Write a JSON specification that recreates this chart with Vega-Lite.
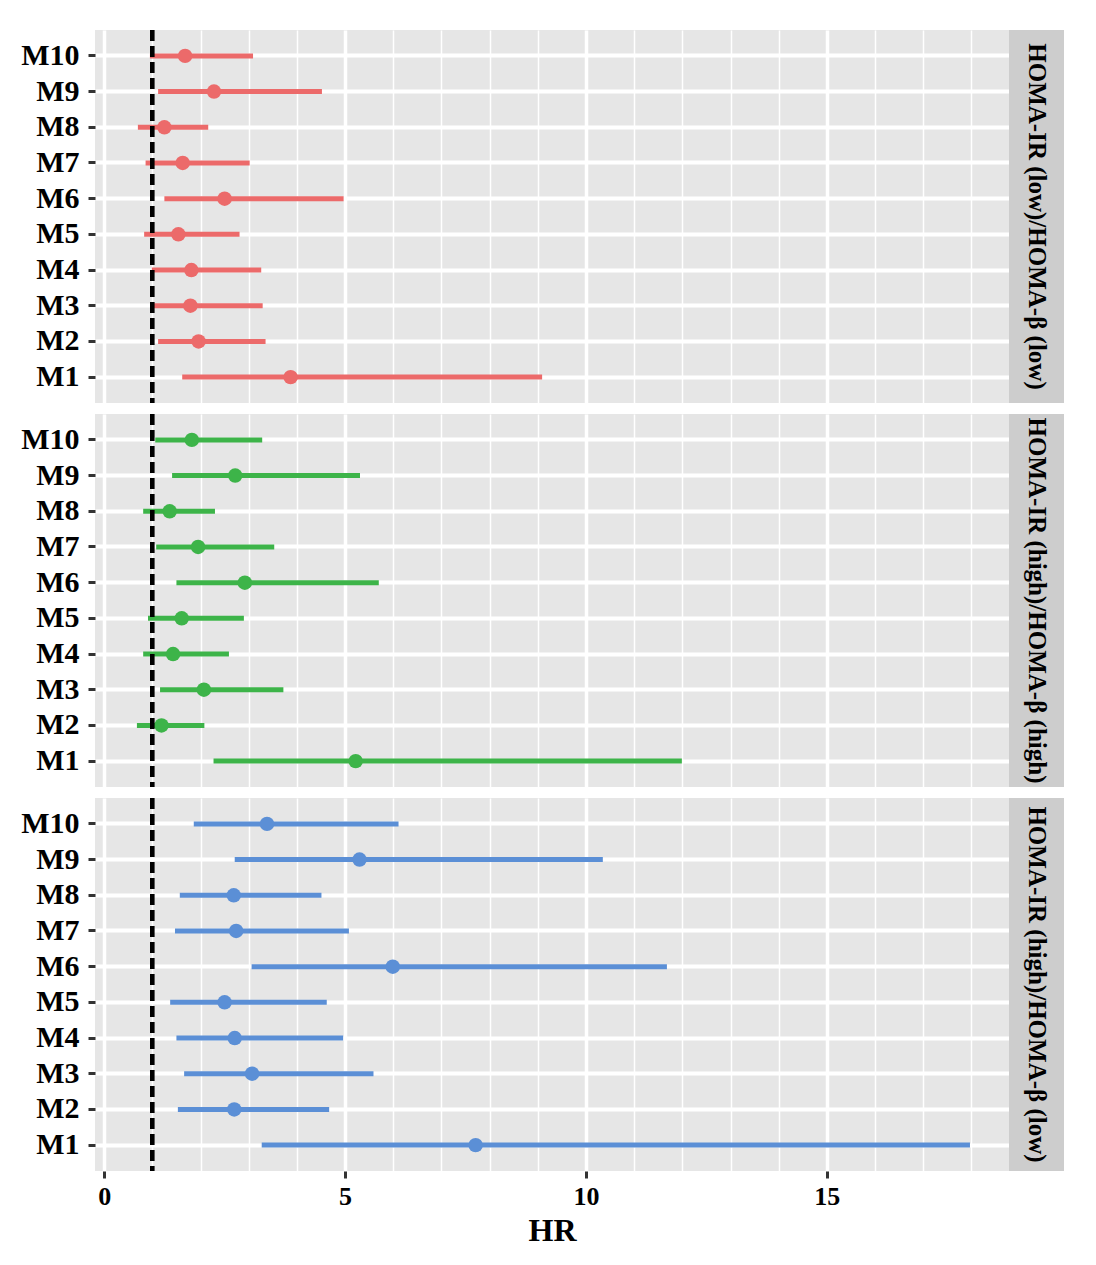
{
  "$schema": "https://vega.github.io/schema/vega-lite/v6.json",
  "background": "white",
  "padding": {"left": 20, "top": 28, "right": 5, "bottom": 5},
  "config": {
    "view": {"stroke": null},
    "axis": {"gridColor": "white", "domain": false, "tickColor": "#333333", "tickWidth": 3, "labelFont": "Liberation Serif", "labelFontWeight": "bold", "labelColor": "black", "titleFont": "Liberation Serif", "titleFontWeight": "bold", "titleColor": "black"}
  },
  "data": {"values": [
    {"group": "HOMA-IR (low)/HOMA-β (low)", "model": "M10", "hr": 1.68, "low": 0.95, "high": 3.09},
    {"group": "HOMA-IR (low)/HOMA-β (low)", "model": "M9", "hr": 2.28, "low": 1.12, "high": 4.52},
    {"group": "HOMA-IR (low)/HOMA-β (low)", "model": "M8", "hr": 1.25, "low": 0.70, "high": 2.16},
    {"group": "HOMA-IR (low)/HOMA-β (low)", "model": "M7", "hr": 1.63, "low": 0.86, "high": 3.02},
    {"group": "HOMA-IR (low)/HOMA-β (low)", "model": "M6", "hr": 2.50, "low": 1.25, "high": 4.97},
    {"group": "HOMA-IR (low)/HOMA-β (low)", "model": "M5", "hr": 1.54, "low": 0.83, "high": 2.81},
    {"group": "HOMA-IR (low)/HOMA-β (low)", "model": "M4", "hr": 1.81, "low": 0.99, "high": 3.26},
    {"group": "HOMA-IR (low)/HOMA-β (low)", "model": "M3", "hr": 1.79, "low": 0.97, "high": 3.29},
    {"group": "HOMA-IR (low)/HOMA-β (low)", "model": "M2", "hr": 1.96, "low": 1.12, "high": 3.35},
    {"group": "HOMA-IR (low)/HOMA-β (low)", "model": "M1", "hr": 3.87, "low": 1.62, "high": 9.09},
    {"group": "HOMA-IR (high)/HOMA-β (high)", "model": "M10", "hr": 1.82, "low": 1.06, "high": 3.28},
    {"group": "HOMA-IR (high)/HOMA-β (high)", "model": "M9", "hr": 2.72, "low": 1.41, "high": 5.31},
    {"group": "HOMA-IR (high)/HOMA-β (high)", "model": "M8", "hr": 1.36, "low": 0.81, "high": 2.30},
    {"group": "HOMA-IR (high)/HOMA-β (high)", "model": "M7", "hr": 1.95, "low": 1.08, "high": 3.53},
    {"group": "HOMA-IR (high)/HOMA-β (high)", "model": "M6", "hr": 2.92, "low": 1.50, "high": 5.70},
    {"group": "HOMA-IR (high)/HOMA-β (high)", "model": "M5", "hr": 1.61, "low": 0.91, "high": 2.90},
    {"group": "HOMA-IR (high)/HOMA-β (high)", "model": "M4", "hr": 1.43, "low": 0.81, "high": 2.59},
    {"group": "HOMA-IR (high)/HOMA-β (high)", "model": "M3", "hr": 2.07, "low": 1.16, "high": 3.72},
    {"group": "HOMA-IR (high)/HOMA-β (high)", "model": "M2", "hr": 1.19, "low": 0.68, "high": 2.08},
    {"group": "HOMA-IR (high)/HOMA-β (high)", "model": "M1", "hr": 5.22, "low": 2.27, "high": 11.99},
    {"group": "HOMA-IR (high)/HOMA-β (low)", "model": "M10", "hr": 3.38, "low": 1.86, "high": 6.11},
    {"group": "HOMA-IR (high)/HOMA-β (low)", "model": "M9", "hr": 5.30, "low": 2.71, "high": 10.35},
    {"group": "HOMA-IR (high)/HOMA-β (low)", "model": "M8", "hr": 2.69, "low": 1.57, "high": 4.51},
    {"group": "HOMA-IR (high)/HOMA-β (low)", "model": "M7", "hr": 2.74, "low": 1.47, "high": 5.08},
    {"group": "HOMA-IR (high)/HOMA-β (low)", "model": "M6", "hr": 5.99, "low": 3.06, "high": 11.68},
    {"group": "HOMA-IR (high)/HOMA-β (low)", "model": "M5", "hr": 2.50, "low": 1.37, "high": 4.62},
    {"group": "HOMA-IR (high)/HOMA-β (low)", "model": "M4", "hr": 2.71, "low": 1.50, "high": 4.96},
    {"group": "HOMA-IR (high)/HOMA-β (low)", "model": "M3", "hr": 3.07, "low": 1.66, "high": 5.59},
    {"group": "HOMA-IR (high)/HOMA-β (low)", "model": "M2", "hr": 2.70, "low": 1.53, "high": 4.67},
    {"group": "HOMA-IR (high)/HOMA-β (low)", "model": "M1", "hr": 7.71, "low": 3.27, "high": 17.97}
  ]},
  "spacing": 7,
  "vconcat": [
    {
      "spacing": 0,
      "hconcat": [
        {
          "width": 914, "height": 373,
          "view": {"fill": "#e6e6e6", "stroke": null},
          "transform": [{"filter": "datum.group === 'HOMA-IR (low)/HOMA-β (low)'"}],
          "encoding": {
            "color": {"field": "group", "type": "nominal", "scale": {"domain": ["HOMA-IR (low)/HOMA-β (low)", "HOMA-IR (high)/HOMA-β (high)", "HOMA-IR (high)/HOMA-β (low)"], "range": ["#ec6a6a", "#3db449", "#5b8fd6"]}, "legend": null}
          },
          "layer": [
            {"mark": {"type": "rule", "strokeWidth": 5}, "encoding": {
              "y": {"field": "model", "type": "nominal", "sort": ["M10","M9","M8","M7","M6","M5","M4","M3","M2","M1"], "scale": {"padding": 0.45}, "axis": {"title": null, "grid": true, "gridWidth": 4, "tickSize": 7, "labelPadding": 9, "labelFontSize": 30}},
              "x": {"field": "low", "type": "quantitative", "scale": {"domain": [-0.19, 18.78], "nice": false, "zero": false}, "axis": {"title": null, "labels": false, "ticks": false, "tickValues": [0, 2.5, 5, 7.5, 10, 12.5, 15, 17.5], "grid": true, "gridWidth": {"condition": {"test": "datum.value % 5 === 0", "value": 3.5}, "value": 1.5}}}, "x2": {"field": "high"}}},
            {"mark": {"type": "point", "filled": true, "size": 210, "opacity": 1}, "encoding": {
              "y": {"field": "model", "type": "nominal", "sort": ["M10","M9","M8","M7","M6","M5","M4","M3","M2","M1"]},
              "x": {"field": "hr", "type": "quantitative"}}},
            {"mark": {"type": "rule", "color": "black", "strokeWidth": 3.5, "strokeDash": [11, 5]}, "encoding": {"x": {"datum": 1}, "color": {"value": "black"}}}
          ]
        },
        {
          "width": 55, "height": 373,
          "view": {"fill": "#cdcdcd", "stroke": null},
          "transform": [{"filter": "datum.group === 'HOMA-IR (low)/HOMA-β (low)'"}, {"aggregate": [{"op": "count", "as": "n"}], "groupby": ["group"]}],
          "mark": {"type": "text", "angle": 90, "font": "Liberation Serif", "fontWeight": "bold", "fontSize": 25, "color": "black", "align": "center", "baseline": "middle"},
          "encoding": {"text": {"field": "group", "type": "nominal"}}
        }
      ]
    },
    {
      "spacing": 0,
      "hconcat": [
        {
          "width": 914, "height": 373,
          "view": {"fill": "#e6e6e6", "stroke": null},
          "transform": [{"filter": "datum.group === 'HOMA-IR (high)/HOMA-β (high)'"}],
          "encoding": {
            "color": {"field": "group", "type": "nominal", "scale": {"domain": ["HOMA-IR (low)/HOMA-β (low)", "HOMA-IR (high)/HOMA-β (high)", "HOMA-IR (high)/HOMA-β (low)"], "range": ["#ec6a6a", "#3db449", "#5b8fd6"]}, "legend": null}
          },
          "layer": [
            {"mark": {"type": "rule", "strokeWidth": 5}, "encoding": {
              "y": {"field": "model", "type": "nominal", "sort": ["M10","M9","M8","M7","M6","M5","M4","M3","M2","M1"], "scale": {"padding": 0.45}, "axis": {"title": null, "grid": true, "gridWidth": 4, "tickSize": 7, "labelPadding": 9, "labelFontSize": 30}},
              "x": {"field": "low", "type": "quantitative", "scale": {"domain": [-0.19, 18.78], "nice": false, "zero": false}, "axis": {"title": null, "labels": false, "ticks": false, "tickValues": [0, 2.5, 5, 7.5, 10, 12.5, 15, 17.5], "grid": true, "gridWidth": {"condition": {"test": "datum.value % 5 === 0", "value": 3.5}, "value": 1.5}}}, "x2": {"field": "high"}}},
            {"mark": {"type": "point", "filled": true, "size": 210, "opacity": 1}, "encoding": {
              "y": {"field": "model", "type": "nominal", "sort": ["M10","M9","M8","M7","M6","M5","M4","M3","M2","M1"]},
              "x": {"field": "hr", "type": "quantitative"}}},
            {"mark": {"type": "rule", "color": "black", "strokeWidth": 3.5, "strokeDash": [11, 5]}, "encoding": {"x": {"datum": 1}, "color": {"value": "black"}}}
          ]
        },
        {
          "width": 55, "height": 373,
          "view": {"fill": "#cdcdcd", "stroke": null},
          "transform": [{"filter": "datum.group === 'HOMA-IR (high)/HOMA-β (high)'"}, {"aggregate": [{"op": "count", "as": "n"}], "groupby": ["group"]}],
          "mark": {"type": "text", "angle": 90, "font": "Liberation Serif", "fontWeight": "bold", "fontSize": 25, "color": "black", "align": "center", "baseline": "middle"},
          "encoding": {"text": {"field": "group", "type": "nominal"}}
        }
      ]
    },
    {
      "spacing": 0,
      "hconcat": [
        {
          "width": 914, "height": 373,
          "view": {"fill": "#e6e6e6", "stroke": null},
          "transform": [{"filter": "datum.group === 'HOMA-IR (high)/HOMA-β (low)'"}],
          "encoding": {
            "color": {"field": "group", "type": "nominal", "scale": {"domain": ["HOMA-IR (low)/HOMA-β (low)", "HOMA-IR (high)/HOMA-β (high)", "HOMA-IR (high)/HOMA-β (low)"], "range": ["#ec6a6a", "#3db449", "#5b8fd6"]}, "legend": null}
          },
          "layer": [
            {"mark": {"type": "rule", "strokeWidth": 5}, "encoding": {
              "y": {"field": "model", "type": "nominal", "sort": ["M10","M9","M8","M7","M6","M5","M4","M3","M2","M1"], "scale": {"padding": 0.45}, "axis": {"title": null, "grid": true, "gridWidth": 4, "tickSize": 7, "labelPadding": 9, "labelFontSize": 30}},
              "x": {"field": "low", "type": "quantitative", "scale": {"domain": [-0.19, 18.78], "nice": false, "zero": false}, "axis": {"title": "HR", "titleFontSize": 32, "titlePadding": 6, "labelFontSize": 26, "labelPadding": 5, "labelOverlap": false, "tickSize": 7, "tickOpacity": {"condition": {"test": "datum.value % 5 === 0", "value": 1}, "value": 0}, "labelExpr": "datum.value % 5 === 0 ? datum.label : ''", "tickValues": [0, 2.5, 5, 7.5, 10, 12.5, 15, 17.5], "grid": true, "gridWidth": {"condition": {"test": "datum.value % 5 === 0", "value": 3.5}, "value": 1.5}}}, "x2": {"field": "high"}}},
            {"mark": {"type": "point", "filled": true, "size": 210, "opacity": 1}, "encoding": {
              "y": {"field": "model", "type": "nominal", "sort": ["M10","M9","M8","M7","M6","M5","M4","M3","M2","M1"]},
              "x": {"field": "hr", "type": "quantitative"}}},
            {"mark": {"type": "rule", "color": "black", "strokeWidth": 3.5, "strokeDash": [11, 5]}, "encoding": {"x": {"datum": 1}, "color": {"value": "black"}}}
          ]
        },
        {
          "width": 55, "height": 373,
          "view": {"fill": "#cdcdcd", "stroke": null},
          "transform": [{"filter": "datum.group === 'HOMA-IR (high)/HOMA-β (low)'"}, {"aggregate": [{"op": "count", "as": "n"}], "groupby": ["group"]}],
          "mark": {"type": "text", "angle": 90, "font": "Liberation Serif", "fontWeight": "bold", "fontSize": 25, "color": "black", "align": "center", "baseline": "middle"},
          "encoding": {"text": {"field": "group", "type": "nominal"}}
        }
      ]
    }
  ]
}
